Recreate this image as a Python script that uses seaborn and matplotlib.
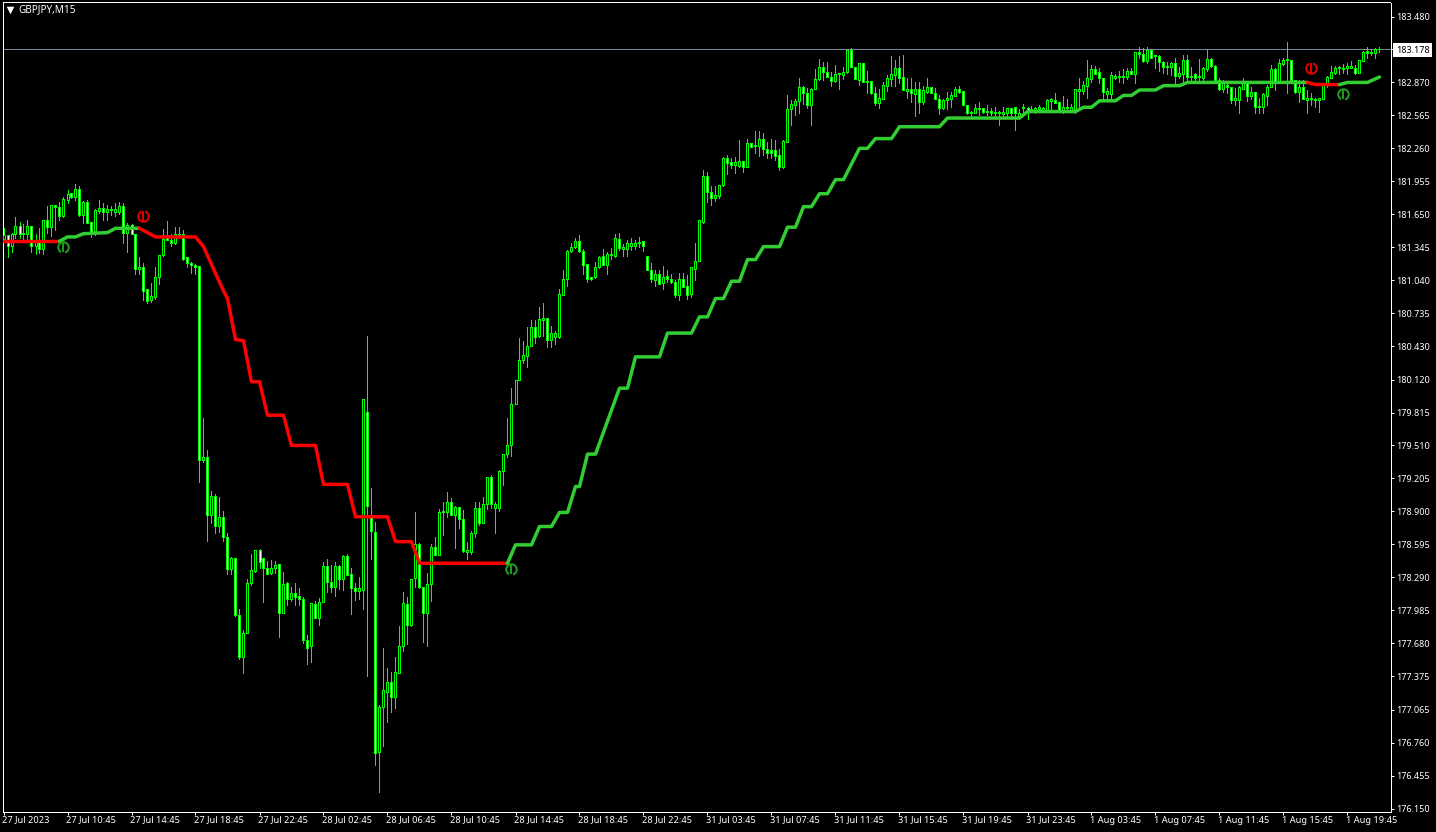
import numpy as np
import pandas as pd
import matplotlib
matplotlib.use("Agg")
import matplotlib.pyplot as plt
from matplotlib.transforms import ScaledTranslation
import seaborn as sns

opens = [
181.42,181.46,181.36,181.47,181.54,181.47,181.47,181.54,181.36,181.39,
181.33,181.60,181.53,181.74,181.72,181.63,181.78,181.85,181.81,181.88,
181.64,181.76,181.58,181.48,181.68,181.71,181.67,181.69,181.67,181.67,
181.73,181.48,181.55,181.47,181.14,181.16,180.96,180.86,180.88,181.07,
181.27,181.44,181.41,181.38,181.46,181.47,181.25,181.20,181.18,181.17,
179.38,179.40,178.87,179.04,178.76,178.85,178.66,178.37,178.47,177.94,
177.55,177.77,178.24,178.35,178.54,178.47,178.38,178.33,178.38,178.41,
177.96,178.24,178.09,178.14,178.12,178.09,177.71,177.65,178.04,177.91,
178.06,178.39,178.25,178.20,178.39,178.27,178.49,178.32,178.19,178.16,
178.17,179.82,178.87,178.71,176.67,177.09,177.23,177.32,177.18,177.40,
177.65,178.04,177.85,178.28,178.60,178.20,177.96,178.23,178.57,178.50,
178.89,178.89,178.99,178.87,178.94,178.83,178.52,178.52,178.70,178.93,
178.79,178.97,179.22,178.93,178.93,179.27,179.43,179.51,179.89,180.12,
180.30,180.34,180.43,180.61,180.52,180.67,180.69,180.49,180.51,180.51,
180.90,181.05,181.31,181.35,181.40,181.31,181.19,181.07,181.07,181.16,
181.26,181.18,181.27,181.26,181.42,181.33,181.33,181.36,181.36,181.38,
181.40,181.26,181.13,181.04,181.10,181.01,181.08,181.05,181.02,180.90,
181.05,180.99,180.91,181.14,181.22,181.58,182.00,181.86,181.80,181.82,
181.92,182.17,182.13,182.11,182.10,182.14,182.09,182.31,182.28,182.28,
182.35,182.25,182.24,182.24,182.20,182.09,182.32,182.62,182.66,182.70,
182.83,182.77,182.66,182.81,182.90,183.01,182.97,182.92,182.88,182.95,
182.94,182.97,183.17,183.01,182.89,183.05,182.88,182.88,182.77,182.68,
182.72,182.84,182.90,182.94,183.00,182.92,182.79,182.81,182.76,182.81,
182.69,182.78,182.83,182.77,182.72,182.63,182.71,182.72,182.74,182.81,
182.79,182.66,182.59,182.59,182.62,182.63,182.61,182.61,182.59,182.59,
182.58,182.59,182.63,182.64,182.56,182.63,182.63,182.61,182.60,182.62,
182.61,182.61,182.70,182.71,182.69,182.61,182.63,182.61,182.61,182.79,
182.79,182.84,182.90,182.99,182.97,182.91,182.76,182.76,182.91,182.92,
182.92,182.92,182.98,182.95,183.15,183.13,183.07,183.17,183.11,183.11,
183.06,183.01,183.01,183.05,182.93,182.95,183.08,182.92,182.95,182.92,
182.91,182.99,183.09,183.02,182.89,182.81,182.85,182.83,182.71,182.71,
182.81,182.86,182.74,182.78,182.64,182.64,182.74,182.83,182.99,182.87,
183.04,183.08,183.08,182.89,182.78,182.83,182.71,182.72,182.71,182.71,
182.72,182.85,182.91,182.96,183.00,182.99,183.00,183.00,183.00,182.96,
183.07,183.16,183.14,183.14,183.18]

closes = [
181.46,181.36,181.47,181.54,181.47,181.48,181.54,181.36,181.39,181.33,
181.60,181.53,181.74,181.72,181.63,181.79,181.84,181.81,181.88,181.64,
181.76,181.57,181.48,181.69,181.71,181.67,181.70,181.70,181.70,181.73,
181.48,181.55,181.47,181.14,181.16,180.94,180.85,180.89,181.07,181.27,
181.42,181.41,181.38,181.47,181.47,181.24,181.20,181.18,181.16,179.38,
179.40,178.87,179.04,178.76,178.85,178.66,178.37,178.47,177.94,177.55,
177.77,178.24,178.36,178.54,178.43,178.38,178.32,178.38,178.40,177.96,
178.23,178.09,178.14,178.11,178.09,177.71,177.64,178.05,177.91,178.06,
178.39,178.25,178.20,178.39,178.27,178.49,178.31,178.19,178.16,178.19,
179.94,178.95,178.72,176.66,177.09,177.25,177.32,177.18,177.41,177.65,
178.05,177.85,178.27,178.60,178.20,177.96,178.23,178.57,178.50,178.89,
178.90,178.99,178.87,178.94,178.83,178.53,178.54,178.70,178.93,178.79,
178.97,179.22,178.97,178.97,179.27,179.43,179.51,179.89,180.12,180.30,
180.35,180.43,180.61,180.51,180.68,180.69,180.49,180.55,180.55,180.91,
181.05,181.31,181.35,181.40,181.31,181.18,181.05,181.05,181.16,181.25,
181.18,181.28,181.28,181.43,181.34,181.35,181.38,181.38,181.38,181.39,
181.36,181.13,181.05,181.10,181.00,181.07,181.05,181.02,180.90,181.05,
180.98,180.90,181.16,181.22,181.60,182.00,181.86,181.80,181.83,181.92,
182.17,182.12,182.11,182.13,182.14,182.09,182.31,182.27,182.29,182.35,
182.25,182.22,182.22,182.19,182.09,182.33,182.62,182.67,182.70,182.83,
182.77,182.66,182.81,182.90,183.01,182.97,182.92,182.88,182.95,182.96,
182.97,183.17,183.01,182.90,183.05,182.87,182.87,182.77,182.68,182.73,
182.85,182.91,182.95,183.00,182.91,182.80,182.81,182.77,182.81,182.69,
182.80,182.83,182.77,182.72,182.63,182.71,182.73,182.75,182.81,182.78,
182.66,182.59,182.60,182.63,182.63,182.60,182.60,182.59,182.60,182.60,
182.60,182.63,182.59,182.59,182.59,182.64,182.60,182.62,182.63,182.64,
182.63,182.71,182.72,182.68,182.61,182.64,182.64,182.64,182.81,182.81,
182.85,182.91,182.99,182.95,182.91,182.78,182.79,182.94,182.93,182.93,
182.93,182.98,182.95,183.15,183.13,183.07,183.17,183.10,183.12,183.06,
183.01,183.02,183.05,182.93,182.96,183.08,182.92,182.93,182.91,182.93,
183.00,183.09,183.02,182.89,182.81,182.86,182.83,182.71,182.73,182.83,
182.86,182.74,182.78,182.64,182.65,182.76,182.83,182.99,182.87,183.05,
183.08,183.09,182.89,182.78,182.83,182.72,182.73,182.73,182.72,182.73,
182.85,182.92,182.97,183.00,183.01,183.00,183.02,183.02,182.96,183.08,
183.15,183.14,183.15,183.18,183.178]

highs = [
181.52,181.46,181.48,181.62,181.58,181.56,181.60,181.54,181.47,181.52,
181.60,181.73,181.74,181.74,181.76,181.81,181.87,181.85,181.93,181.91,
181.77,181.78,181.58,181.70,181.78,181.75,181.74,181.73,181.75,181.76,
181.75,181.57,181.56,181.47,181.25,181.20,180.96,181.01,181.16,181.27,
181.51,181.59,181.47,181.53,181.53,181.50,181.25,181.21,181.19,181.17,
179.76,179.47,179.09,179.06,179.03,178.90,178.70,178.48,178.47,178.00,
177.80,178.27,178.51,178.54,178.55,178.47,178.44,178.45,178.44,178.41,
178.34,178.25,178.20,178.24,178.19,178.11,177.76,178.05,178.07,178.10,
178.43,178.46,178.40,178.43,178.40,178.50,178.51,178.38,178.24,178.29,
179.94,180.52,179.12,178.80,177.11,177.64,177.45,177.41,177.55,177.84,
178.15,178.11,178.27,178.89,178.61,178.20,178.33,178.60,178.66,178.92,
178.99,179.08,179.02,178.95,178.94,178.91,178.62,178.72,178.99,178.99,
179.03,179.22,179.24,178.99,179.28,179.43,179.76,180.04,180.12,180.50,
180.48,180.61,180.67,180.67,180.79,180.83,180.69,180.62,180.57,180.96,
181.13,181.32,181.38,181.43,181.46,181.33,181.19,181.07,181.21,181.26,
181.33,181.30,181.34,181.47,181.48,181.37,181.41,181.43,181.41,181.44,
181.40,181.26,181.20,181.13,181.13,181.17,181.13,181.10,181.04,181.11,
181.11,181.09,181.16,181.38,181.60,182.06,182.04,181.91,181.91,181.92,
182.18,182.20,182.17,182.18,182.34,182.14,182.35,182.31,182.42,182.42,
182.40,182.32,182.35,182.34,182.25,182.34,182.75,182.71,182.72,182.91,
182.84,182.82,182.82,182.99,183.09,183.06,183.06,182.97,183.03,182.96,
183.01,183.17,183.19,183.01,183.05,183.05,182.98,182.88,182.83,182.81,
182.87,182.94,183.11,183.08,183.11,183.12,182.91,182.91,182.87,182.87,
182.84,182.91,182.83,182.82,182.75,182.72,182.78,182.78,182.83,182.84,
182.79,182.66,182.61,182.67,182.69,182.63,182.66,182.63,182.64,182.61,
182.64,182.63,182.63,182.64,182.62,182.67,182.64,182.65,182.64,182.66,
182.64,182.72,182.73,182.77,182.69,182.74,182.72,182.67,182.81,182.91,
182.88,183.08,183.03,183.02,183.00,182.91,182.82,182.97,182.95,182.98,
182.99,183.00,183.00,183.15,183.20,183.19,183.20,183.18,183.11,183.12,
183.07,183.06,183.06,183.10,183.01,183.12,183.12,183.01,182.96,183.09,
183.01,183.18,183.10,183.03,182.91,182.89,182.86,182.83,182.82,182.84,
182.91,182.86,182.83,182.78,182.73,182.77,182.85,183.03,183.00,183.09,
183.10,183.24,183.08,182.89,182.89,182.89,182.80,182.77,182.73,182.73,
182.86,182.93,183.02,183.02,183.02,183.04,183.05,183.07,183.03,183.08,
183.16,183.20,183.18,183.19,183.20]

lows = [
181.40,181.25,181.30,181.43,181.43,181.42,181.42,181.30,181.28,181.29,
181.28,181.48,181.45,181.50,181.60,181.62,181.75,181.80,181.78,181.63,
181.57,181.57,181.44,181.46,181.66,181.60,181.60,181.64,181.63,181.65,
181.38,181.30,181.47,181.10,181.10,180.86,180.83,180.84,180.87,181.00,
181.26,181.41,181.36,181.37,181.46,181.23,181.16,181.11,181.10,179.17,
179.36,178.63,178.79,178.70,178.71,178.63,178.32,178.32,177.93,177.53,
177.40,177.77,178.22,178.34,178.38,178.06,178.32,178.32,178.33,177.74,
177.96,178.03,178.07,178.03,178.03,177.68,177.49,177.51,177.91,177.85,
178.06,178.15,178.15,178.12,178.18,178.17,178.31,177.95,178.08,178.09,
178.00,177.38,178.46,176.55,176.30,176.73,176.95,177.04,177.08,177.40,
177.61,177.67,177.84,178.20,178.19,177.69,177.65,178.07,178.50,178.50,
178.68,178.85,178.87,178.56,178.75,178.52,178.46,178.51,178.66,178.77,
178.79,178.92,178.93,178.70,178.90,179.14,179.40,179.41,179.89,180.12,
180.27,180.24,180.43,180.46,180.51,180.52,180.42,180.42,180.45,180.50,
180.90,180.99,181.30,181.34,181.30,181.10,181.02,181.04,181.06,181.15,
181.18,181.10,181.24,181.25,181.32,181.26,181.26,181.32,181.33,181.35,
181.31,181.13,181.02,180.99,181.00,180.96,181.02,181.01,180.88,180.86,
180.98,180.87,180.88,181.04,181.22,181.57,181.76,181.74,181.77,181.80,
181.91,182.02,182.08,182.03,182.09,182.04,182.09,182.27,182.22,182.19,
182.20,182.17,182.17,182.15,182.06,182.08,182.32,182.48,182.57,182.59,
182.67,182.63,182.48,182.81,182.89,182.89,182.92,182.84,182.87,182.81,
182.90,182.96,183.01,182.90,182.85,182.87,182.77,182.76,182.66,182.63,
182.72,182.79,182.84,182.84,182.86,182.80,182.73,182.69,182.56,182.59,
182.67,182.77,182.77,182.72,182.58,182.62,182.62,182.64,182.74,182.77,
182.66,182.58,182.55,182.59,182.57,182.59,182.57,182.57,182.55,182.48,
182.55,182.55,182.55,182.43,182.55,182.57,182.53,182.60,182.59,182.61,
182.61,182.61,182.61,182.68,182.61,182.59,182.61,182.61,182.59,182.63,
182.76,182.73,182.87,182.95,182.86,182.70,182.72,182.72,182.90,182.87,
182.86,182.90,182.95,182.86,183.10,183.06,183.05,183.10,183.00,182.98,
182.96,182.95,182.94,182.86,182.91,182.87,182.87,182.87,182.89,182.87,
182.87,182.98,183.01,182.87,182.80,182.78,182.77,182.68,182.66,182.59,
182.81,182.70,182.72,182.59,182.59,182.59,182.66,182.83,182.80,182.86,
183.03,182.77,182.87,182.77,182.69,182.72,182.59,182.66,182.64,182.60,
182.72,182.83,182.91,182.95,182.95,182.96,182.95,183.00,182.95,182.96,
183.07,183.10,183.12,183.10,183.15]

# indicator segments: bar number and price
red1_x = [0, 14]
red1_y = [181.40, 181.40]
green1_x = [14, 16, 18, 20, 26, 28, 34]
green1_y = [181.40, 181.44, 181.44, 181.47, 181.48, 181.52, 181.52]
red2_x = [34, 38, 48, 50, 55, 56, 58, 60, 62, 64, 66, 70, 72, 78, 80, 86, 88, 96, 98, 102, 104, 126]
red2_y = [181.52, 181.44, 181.44, 181.35, 180.94, 180.87, 180.49, 180.48, 180.10, 180.10, 179.79, 179.79,
          179.51, 179.51, 179.15, 179.15, 178.85, 178.85, 178.62, 178.62, 178.42, 178.42]
green2_x = [126, 128, 132, 134, 137, 139, 141, 143, 144, 146, 148, 154, 156, 158, 164, 166, 172, 174, 176,
            178, 180, 182, 184, 186, 188, 190, 194, 196, 198, 200, 202, 204, 206, 208, 210, 214, 216, 218,
            222, 224, 234, 236, 254, 256, 268, 270, 272, 274, 278, 280, 282, 284, 288, 290, 294, 296, 326]
green2_y = [178.42, 178.59, 178.59, 178.76, 178.76, 178.89, 178.89, 179.13, 179.13, 179.43, 179.43, 180.04,
            180.04, 180.33, 180.33, 180.55, 180.55, 180.70, 180.70, 180.87, 180.87, 181.03, 181.03, 181.23,
            181.23, 181.35, 181.35, 181.53, 181.53, 181.72, 181.72, 181.84, 181.84, 181.97, 181.97, 182.26,
            182.26, 182.35, 182.35, 182.46, 182.46, 182.54, 182.54, 182.60, 182.60, 182.64, 182.64, 182.70,
            182.70, 182.75, 182.75, 182.80, 182.80, 182.84, 182.84, 182.87, 182.87]
red3_x = [326, 328, 334]
red3_y = [182.87, 182.85, 182.85]
green3_x = [334, 336, 341, 344]
green3_y = [182.85, 182.87, 182.87, 182.92]

buy_x = [15, 127, 335]
buy_y = [181.35, 178.37, 182.76]
sell_x = [35, 327]
sell_y = [181.63, 183.00]

bid = 183.178
y_ticks = [183.480, 183.178, 182.870, 182.565, 182.260, 181.955, 181.650, 181.345, 181.040, 180.735, 180.430,
           180.120, 179.815, 179.510, 179.205, 178.900, 178.595, 178.290, 177.985, 177.680, 177.375, 177.065,
           176.760, 176.455, 176.150]
x_labels = ["27 Jul 2023", "27 Jul 10:45", "27 Jul 14:45", "27 Jul 18:45", "27 Jul 22:45", "28 Jul 02:45",
            "28 Jul 06:45", "28 Jul 10:45", "28 Jul 14:45", "28 Jul 18:45", "28 Jul 22:45", "31 Jul 03:45",
            "31 Jul 07:45", "31 Jul 11:45", "31 Jul 15:45", "31 Jul 19:45", "31 Jul 23:45", "1 Aug 03:45",
            "1 Aug 07:45", "1 Aug 11:45", "1 Aug 15:45", "1 Aug 19:45"]
title_text = "GBPJPY,M15"

assert len(opens) == len(closes) == len(highs) == len(lows), (len(opens), len(closes), len(highs), len(lows))

W, H = 1436, 832
sns.set_theme(style="dark", rc={"axes.facecolor": "black", "figure.facecolor": "black"})
plt.rcParams["font.family"] = ["Noto Sans", "DejaVu Sans"]
PX = 0.72  # one pixel in points at dpi 100
XMIN, XMAX, YMIN, YMAX = -0.25, 346.75, 176.1223, 183.6096

fig = plt.figure(figsize=(W / 100, H / 100), dpi=100)
ax = fig.add_axes([2.5 / W, 1 - 811.5 / H, (1390.5 - 2.5) / W, (811.5 - 2.5) / H])
ax.grid(False)

bars = np.arange(len(opens))
o, c, hi, lo = map(np.array, (opens, closes, highs, lows))
LIME = "#00ff00"

ax.axhline(bid, color="#778899", lw=PX, zorder=1, antialiased=False)
ax.vlines(bars, lo, hi, color=LIME, lw=PX, zorder=2, antialiased=False)
up = c >= o
ax.bar(bars[up], (c - o)[up], bottom=o[up], width=0.5, facecolor="black", edgecolor=LIME,
       linewidth=PX, zorder=3, antialiased=False)
ax.bar(bars[~up], (o - c)[~up], bottom=c[~up], width=0.5, facecolor="white", edgecolor=LIME,
       linewidth=PX, zorder=3, antialiased=False)

segments = [(red1_x, red1_y, "#ff0000"), (green1_x, green1_y, "#32cd32"), (red2_x, red2_y, "#ff0000"),
            (green2_x, green2_y, "#32cd32"), (red3_x, red3_y, "#ff0000"), (green3_x, green3_y, "#32cd32")]
for sx, sy, col in segments:
    sns.lineplot(x=sx, y=sy, ax=ax, color=col, lw=2.5, sort=False, estimator=None, legend=False,
                 zorder=4, solid_capstyle="round", solid_joinstyle="round")

def signal(xs, ys, col, gap):
    sns.scatterplot(x=xs, y=ys, ax=ax, s=82, color=col, linewidth=0, zorder=5, legend=False)
    sns.scatterplot(x=xs, y=ys, ax=ax, s=36, color="black", linewidth=0, zorder=6, legend=False)
    sns.scatterplot(x=xs, y=ys, ax=ax, s=42, marker="|", color=col, linewidth=1.5, zorder=7, legend=False)
    sns.scatterplot(x=xs, y=np.array(ys) + gap, ax=ax, s=10, marker="s", color="black", linewidth=0,
                    zorder=6, legend=False)

signal(buy_x, buy_y, "#1f9a1f", -0.05)
signal(sell_x, sell_y, "#e00000", 0.05)
ax.set_xlabel("")
ax.set_ylabel("")

for s in ax.spines.values():
    s.set_visible(True)
    s.set_color("white")
    s.set_linewidth(PX)

ax.yaxis.tick_right()
ax.set_yticks(y_ticks)
ax.set_yticklabels([f"{v:.3f}" for v in y_ticks], fontsize=6.5, color="white")
ax.set_xticks(np.arange(len(x_labels)) * 16)
ax.set_xticklabels(x_labels, fontsize=6.65, color="white", ha="left")
ax.tick_params(axis="y", colors="white", length=2.3, width=PX, pad=1.6, right=True, left=False)
ax.tick_params(axis="x", colors="white", length=2.3, width=PX, pad=0.6, bottom=True)
shift = ScaledTranslation(-1.5 / 100, 0, fig.dpi_scale_trans)
for lab in ax.get_xticklabels():
    lab.set_transform(lab.get_transform() + shift)
for lab, v in zip(ax.get_yticklabels(), y_ticks):
    if v == bid:
        lab.set_color("black")
        lab.set_bbox(dict(facecolor="white", edgecolor="none", pad=1.8))

ax.text(18 / W, 1 - 10 / H, title_text, transform=fig.transFigure, color="white", fontsize=7.2,
        va="center", ha="left")
ax.scatter([9.5 / W], [1 - 10 / H], transform=fig.transFigure, marker="v", s=30, color="white",
           linewidth=0, clip_on=False, zorder=10)
ax.set_xlim(XMIN, XMAX)
ax.set_ylim(YMIN, YMAX)

fig.savefig("out.png", dpi=100, facecolor="black")
